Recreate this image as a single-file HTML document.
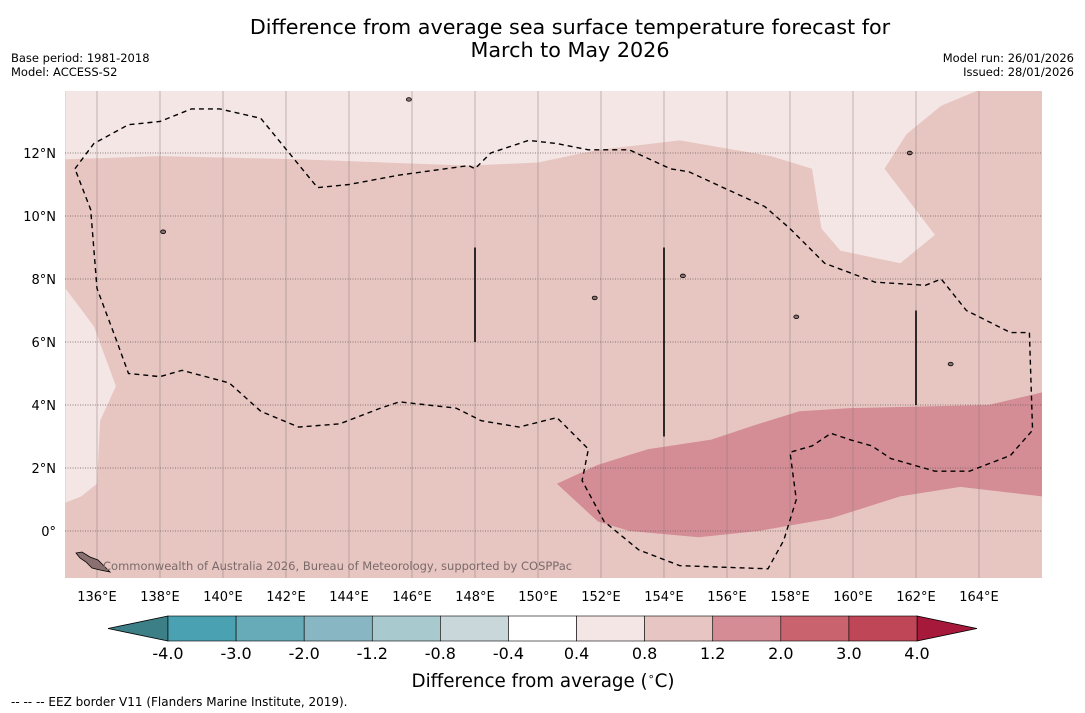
<!DOCTYPE html>
<html><head><meta charset="utf-8"><style>
body{margin:0;background:#fff;font-family:"DejaVu Sans","Liberation Sans",sans-serif;}
svg{display:block}
</style></head><body>
<svg id="chart" width="1085" height="713" xmlns="http://www.w3.org/2000/svg" font-family="DejaVu Sans, Liberation Sans, sans-serif">
<text x="570" y="34" text-anchor="middle" font-size="20.7" fill="#000">Difference from average sea surface temperature forecast for</text>
<text x="570" y="57" text-anchor="middle" font-size="20.7" fill="#000">March to May 2026</text>
<text x="11" y="62" font-size="11.5">Base period: 1981-2018</text>
<text x="11" y="76" font-size="11.5">Model: ACCESS-S2</text>
<text x="1074" y="62" font-size="11.5" text-anchor="end">Model run: 26/01/2026</text>
<text x="1074" y="76" font-size="11.5" text-anchor="end">Issued: 28/01/2026</text>
<g id="map"></g>
<g id="cbar"></g>
<text x="543" y="687" text-anchor="middle" font-size="18.3">Difference from average (<tspan font-size="11" dy="-7">∘</tspan><tspan dy="7">C)</tspan></text>
<text x="11" y="706" font-size="12">--  --  -- EEZ border V11 (Flanders Marine Institute, 2019).</text>
</svg>
<script>
const lonTicks=[136,138,140,142,144,146,148,150,152,154,156,158,160,162,164];
const latTicks=[0,2,4,6,8,10,12];
const lightTopLon=[135,135,138,142.4,147.8,150,151.9,154.5,157.4,158.7,159,159.6,161.5,162.6,161,161.7,162.8,164,166,166,135];
const lightTopLat=[14,11.8,11.9,11.8,11.6,11.7,12.1,12.4,11.9,11.5,9.6,8.9,8.5,9.4,11.5,12.6,13.5,14,14,14,14];
const lightLeftLon=[135,135.9,136.6,136.1,136.0,135.5,135];
const lightLeftLat=[7.7,6.5,4.6,3.5,1.5,1.1,0.9];
const warmLon=[150.6,151.9,153.5,155.5,157,158.3,159.9,164.3,166,166,163.4,161.5,159.3,157,155.1,152.9,151.9,150.6];
const warmLat=[1.5,2.1,2.6,2.9,3.4,3.8,3.9,4.0,4.4,1.1,1.4,1.1,0.4,0,-0.2,0,0.3,1.5];
const eezLon=[135.3,135.9,137.0,138.0,139.0,139.9,141.2,143.0,144.0,145.6,147.8,148.0,148.5,149.7,150.6,151.6,152.9,154.2,154.8,156.1,157.2,158.0,159.1,160.7,162.3,162.8,163.6,165.0,165.6,165.7,165.0,163.7,162.6,161.2,160.6,159.9,159.3,158.7,158.0,158.2,157.8,157.3,154.5,153.2,152.1,151.4,151.6,150.6,149.4,148.2,147.4,145.6,145.0,143.7,142.4,141.2,140.2,138.7,138.0,137.0,136.6,136.0,135.8,135.3];
const eezLat=[11.5,12.3,12.9,13.0,13.4,13.4,13.1,10.9,11.0,11.3,11.6,11.5,12.0,12.4,12.3,12.1,12.1,11.5,11.4,10.8,10.3,9.6,8.5,7.9,7.8,8.0,7.0,6.3,6.3,3.2,2.4,1.9,1.9,2.3,2.7,2.9,3.1,2.7,2.5,1.0,-0.3,-1.2,-1.1,-0.6,0.3,1.6,2.6,3.6,3.3,3.5,3.9,4.1,3.9,3.4,3.3,3.8,4.7,5.1,4.9,5.0,6.1,7.7,10.2,11.5];
const stickLon=[148,154,162];
const stickLat0=[6,3,4];
const stickLat1=[9,9,7];
const islandLon=[145.9,138.1,154.6,151.8,158.2,163.1,161.8];
const islandLat=[13.7,9.5,8.1,7.4,6.8,5.3,12.0];
const cbLevels=["-4.0","-3.0","-2.0","-1.2","-0.8","-0.4","0.4","0.8","1.2","2.0","3.0","4.0"];
const cbColors=["#4aa1b1","#67aab8","#88b6c2","#a8c9cd","#c9d7da","#ffffff","#f4e6e5","#e7c5c2","#d58c94","#c9646f","#be4656"];

const X0=65,X1=1042,Y0=91,Y1=578;
const xs=lon=>97+(lon-136)*31.5;
const ys=lat=>531-lat*31.5;
const NS="http://www.w3.org/2000/svg";
const map=document.getElementById('map');
function el(t,a,p){const e=document.createElementNS(NS,t);for(const k in a)e.setAttribute(k,a[k]);(p||map).appendChild(e);return e;}
const clip=el('clipPath',{id:'mc'});el('rect',{x:X0,y:Y0,width:X1-X0,height:Y1-Y0},clip);
const g=el('g',{'clip-path':'url(#mc)'});
const bg=el('rect',{x:X0,y:Y0,width:X1-X0,height:Y1-Y0,fill:'#e7c6c2'},g);

function poly(lons,lats,fill,name){const p=el('polygon',{points:lons.map((v,i)=>xs(v)+','+ys(lats[i])).join(' '),fill:fill},g);
}
poly(lightTopLon,lightTopLat,'#f4e6e5','anomaly-0.4-0.8-north');
poly(lightLeftLon,lightLeftLat,'#f4e6e5','anomaly-0.4-0.8-west');
poly(warmLon,warmLat,'#d58d95','anomaly-1.2-2.0');
lonTicks.forEach(v=>{const l=el('line',{x1:xs(v),x2:xs(v),y1:Y0,y2:Y1,stroke:'#8a7a7a','stroke-width':0.7,opacity:0.7},g);
});
latTicks.forEach(v=>{const l=el('line',{x1:X0,x2:X1,y1:ys(v),y2:ys(v),stroke:'#6a5a5a','stroke-width':0.7,'stroke-dasharray':'1,1.5'},g);
});
const eez=el('polyline',{points:eezLon.map((v,i)=>xs(v)+','+ys(eezLat[i])).join(' '),fill:'none',stroke:'#000','stroke-width':1.4,'stroke-dasharray':'5,4'},g);

stickLon.forEach((v,i)=>{const l=el('line',{x1:xs(v),x2:xs(v),y1:ys(stickLat0[i]),y2:ys(stickLat1[i]),stroke:'#000','stroke-width':1.6},g);
});
islandLon.forEach((v,i)=>{const c=el('ellipse',{cx:xs(v),cy:ys(islandLat[i]),rx:2.5,ry:1.8,fill:'#8a7070',stroke:'#000','stroke-width':0.8},g);
});
const sam=el('polygon',{points:'76,553 82,552 90,557 98,560 104,566 110,572 100,570 92,568 86,562 80,558',fill:'#8a7070',stroke:'#000','stroke-width':0.8},g);

const cr=el('text',{x:103,y:570,'font-size':11.5,fill:'#7a6a6a'},g);cr.textContent='Commonwealth of Australia 2026, Bureau of Meteorology, supported by COSPPac';

lonTicks.forEach(v=>{const t=el('text',{x:xs(v),y:601,'text-anchor':'middle','font-size':13});t.textContent=v+'°E';
});
latTicks.forEach(v=>{const t=el('text',{x:56,y:ys(v)+5,'text-anchor':'end','font-size':13});t.textContent=v===0?'0°':v+'°N';
});
const cb=document.getElementById('cbar');
const CB0=168,CB1=917,CT=616,CB=641,w=(CB1-CB0)/cbColors.length;
const lo=el('polygon',{points:`108,${(CT+CB)/2} ${CB0},${CT} ${CB0},${CB}`,fill:'#3c7f86',stroke:'#000','stroke-width':0.8},cb);

const hi=el('polygon',{points:`977,${(CT+CB)/2} ${CB1},${CT} ${CB1},${CB}`,fill:'#a7193b',stroke:'#000','stroke-width':0.8},cb);

cbColors.forEach((c,i)=>{const r=el('rect',{x:CB0+i*w,y:CT,width:w,height:CB-CT,fill:c,stroke:'#000','stroke-width':0.6},cb);
});
cbLevels.forEach((s,i)=>{const t=el('text',{x:CB0+i*w,y:659,'text-anchor':'middle','font-size':16},cb);t.textContent=s;
});
</script>
</body></html>
